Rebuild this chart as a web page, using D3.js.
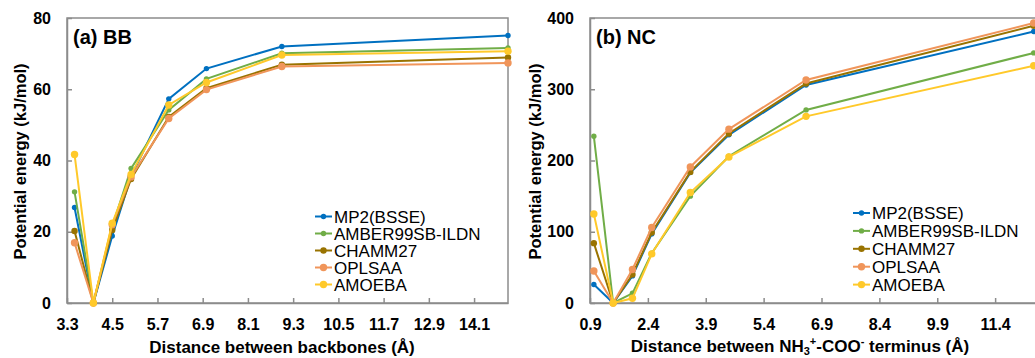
<!DOCTYPE html>
<html>
<head>
<meta charset="utf-8">
<script src="https://cdn.jsdelivr.net/npm/d3@7"></script>
<style>
  body { margin: 0; background: #fff; }
  text { font-family: "Liberation Sans", Arial, sans-serif; }
</style>
</head>
<body>
<div id="visualization"></div>
<script>
// Series names shared by both panels
const seriesNames = ["MP2(BSSE)", "AMBER99SB-ILDN", "CHAMM27", "OPLSAA", "AMOEBA"];
const seriesColors = ["#0070C0", "#70AD47", "#997300", "#F0955A", "#FFC92A"];
const markerRadius = [2.7, 2.7, 3.2, 3.7, 3.7];

// (a) BB: distance between backbones
const bbDist = [3.5, 4.0, 4.5, 5.0, 6.0, 7.0, 9.0, 15.0];
const bbMP2 = [26.8, 0, 18.8, 35.5, 57.3, 65.8, 72.0, 75.1];
const bbAMBER = [31.2, 0, 21.5, 37.8, 54.2, 62.9, 70.1, 71.6];
const bbCHAMM = [20.2, 0, 20.5, 34.8, 52.2, 60.3, 66.9, 68.9];
const bbOPLS = [16.9, 0, 22.0, 35.4, 51.8, 59.9, 66.4, 67.4];
const bbAMOEBA = [41.7, 0, 22.4, 36.1, 55.6, 61.9, 69.6, 70.7];
const bbXTicks = [3.3, 4.5, 5.7, 6.9, 8.1, 9.3, 10.5, 11.7, 12.9, 14.1];
const bbYTicks = [0, 20, 40, 60, 80];

// (b) NC: distance between termini
const ncDist = [1.0, 1.5, 2.0, 2.5, 3.5, 4.5, 6.5, 12.4];
const ncMP2 = [26, 0, 38, 97, 183, 236, 306, 381];
const ncAMBER = [234, 0, 13.6, 70, 150, 206, 271, 351];
const ncCHAMM = [84, 0, 40, 99, 184, 238, 308, 389];
const ncOPLS = [45, 0, 47, 106, 191, 244, 313, 393];
const ncAMOEBA = [125, 0, 6.6, 69, 155, 205, 262, 333];
const ncXTicks = [0.9, 2.4, 3.9, 5.4, 6.9, 8.4, 9.9, 11.4];
const ncYTicks = [0, 100, 200, 300, 400];

const svg = d3.select("#visualization")
    .append("svg")
    .attr("width", 1035)
    .attr("height", 358);

const axisColor = "#8c8c8c";

function drawPanel(opt) {
    const x = d3.scaleLinear().domain(opt.xDomain).range(opt.xRange);
    const y = d3.scaleLinear().domain(opt.yDomain).range([303, 18]);
    const g = svg.append("g");

    // frame
    g.append("rect")
        .attr("x", opt.xRange[0])
        .attr("y", 18)
        .attr("width", opt.xRange[1] - opt.xRange[0])
        .attr("height", 285)
        .attr("fill", "none")
        .attr("stroke", axisColor)
        .attr("stroke-width", 1.5);

    const xAxis = g.append("g")
        .attr("transform", "translate(0,303)")
        .call(d3.axisBottom(x).tickValues(opt.xTicks).tickFormat(d3.format(".1f"))
            .tickSizeInner(-5).tickSizeOuter(0).tickPadding(16));
    const yAxis = g.append("g")
        .attr("transform", `translate(${opt.xRange[0]},0)`)
        .call(d3.axisLeft(y).tickValues(opt.yTicks).tickFormat(d3.format("d"))
            .tickSizeInner(-5).tickSizeOuter(0).tickPadding(16));
    [xAxis, yAxis].forEach(a => {
        a.select(".domain").attr("stroke", axisColor).attr("stroke-width", 1.5);
        a.selectAll(".tick line").attr("stroke", axisColor).attr("stroke-width", 1.5);
        a.selectAll(".tick text")
            .attr("fill", "#000")
            .attr("font-size", 16)
            .attr("font-weight", "bold")
            .attr("font-family", "Liberation Sans, Arial, sans-serif");
    });

    const line = d3.line()
        .x((d, i) => x(opt.dist[i]))
        .y(d => y(d));

    opt.series.forEach((vals, k) => {
        g.append("path")
            .datum(vals)
            .attr("d", line)
            .attr("fill", "none")
            .attr("stroke", seriesColors[k])
            .attr("stroke-width", 2);
        g.selectAll(null)
            .data(vals)
            .enter().append("circle")
            .attr("cx", (d, i) => x(opt.dist[i]))
            .attr("cy", d => y(d))
            .attr("r", markerRadius[k])
            .attr("fill", seriesColors[k]);
    });

    // panel label
    g.append("text")
        .attr("x", opt.xRange[0] + 6)
        .attr("y", 44)
        .attr("font-size", 20)
        .attr("font-weight", "bold")
        .text(opt.label);

    // legend
    seriesNames.forEach((name, k) => {
        const ly = opt.legend.y + k * opt.legend.step;
        g.append("line")
            .attr("x1", opt.legend.x)
            .attr("x2", opt.legend.x + 17)
            .attr("y1", ly)
            .attr("y2", ly)
            .attr("stroke", seriesColors[k])
            .attr("stroke-width", 2);
        g.append("circle")
            .attr("cx", opt.legend.x + 8.5)
            .attr("cy", ly)
            .attr("r", markerRadius[k])
            .attr("fill", seriesColors[k]);
        g.append("text")
            .attr("x", opt.legend.x + 19)
            .attr("y", ly)
            .attr("dy", "0.36em")
            .attr("font-size", 17)
            .text(name);
    });

    // y title
    g.append("text")
        .attr("transform", `translate(${opt.yTitleX},161.5) rotate(-90)`)
        .attr("text-anchor", "middle")
        .attr("font-size", 16.5)
        .attr("font-weight", "bold")
        .text("Potential energy (kJ/mol)");

    return g;
}

const left = drawPanel({
    xDomain: [3.3, 15.0], xRange: [67, 508], yDomain: [0, 80],
    xTicks: bbXTicks, yTicks: bbYTicks, dist: bbDist,
    series: [bbMP2, bbAMBER, bbCHAMM, bbOPLS, bbAMOEBA],
    label: "(a) BB", legend: { x: 315, y: 216.5, step: 17 }, yTitleX: 26
});
left.append("text")
    .attr("x", 282)
    .attr("y", 353)
    .attr("text-anchor", "middle")
    .attr("font-size", 17)
    .attr("font-weight", "bold")
    .text("Distance between backbones (Å)");

const right = drawPanel({
    xDomain: [0.9, 12.9], xRange: [590, 1053], yDomain: [0, 400],
    xTicks: ncXTicks, yTicks: ncYTicks, dist: ncDist,
    series: [ncMP2, ncAMBER, ncCHAMM, ncOPLS, ncAMOEBA],
    label: "(b) NC", legend: { x: 853, y: 213, step: 17.9 }, yTitleX: 541
});
const xt = right.append("text")
    .attr("x", 800)
    .attr("y", 352)
    .attr("text-anchor", "middle")
    .attr("font-size", 17)
    .attr("font-weight", "bold");
xt.append("tspan").text("Distance between NH");
xt.append("tspan").attr("font-size", 11).attr("dy", 3).text("3");
xt.append("tspan").attr("font-size", 11).attr("dy", -10).text("+");
xt.append("tspan").attr("dy", 7).text("-COO");
xt.append("tspan").attr("font-size", 11).attr("dy", -7).text("-");
xt.append("tspan").attr("dy", 7).text(" terminus (Å)");
</script>
</body>
</html>
